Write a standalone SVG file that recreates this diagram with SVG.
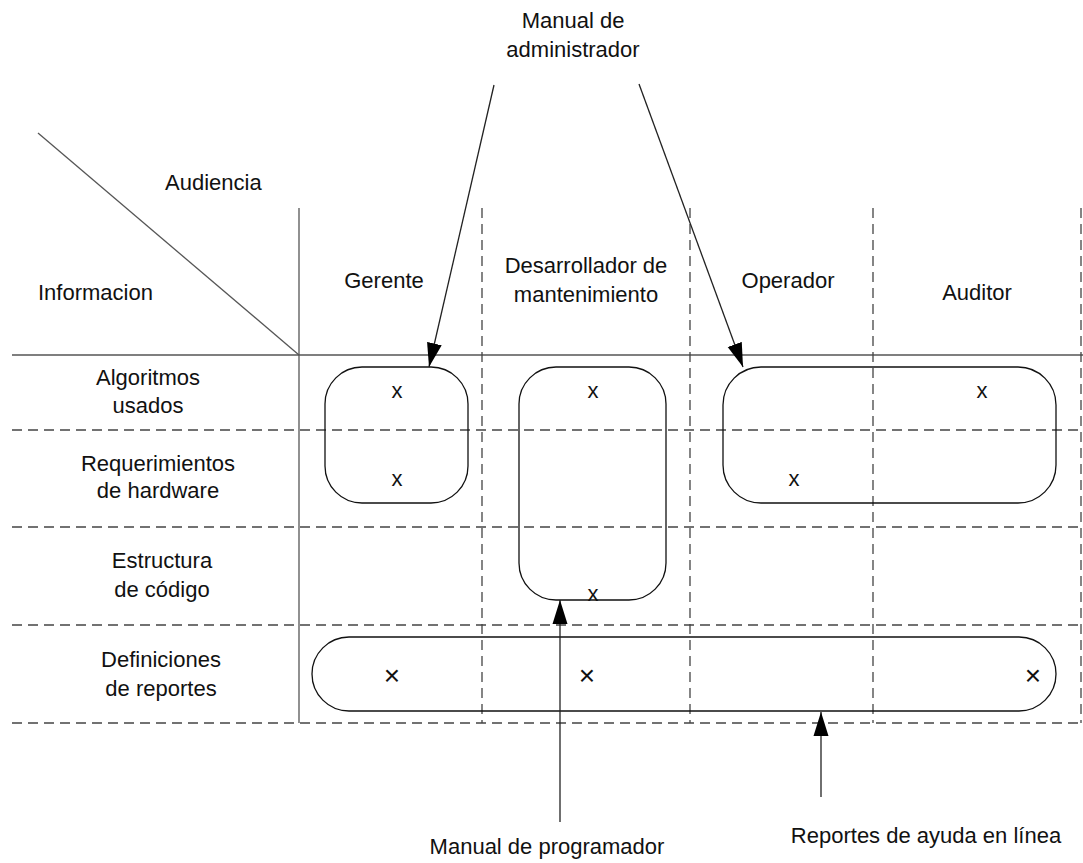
<svg xmlns="http://www.w3.org/2000/svg" width="1083" height="863" viewBox="0 0 1083 863">
<defs>
<style>
text{font-family:"Liberation Sans",Arial,sans-serif;font-size:22px;fill:#111;}
.c{text-anchor:middle;}
.m{font-size:28px;}
.grid{stroke:#555;stroke-width:1.3;fill:none;}
.dash{stroke:#444;stroke-width:1.3;stroke-dasharray:10,6;fill:none;}
.box{stroke:#111;stroke-width:1.3;fill:none;}
.arr{stroke:#222;stroke-width:1.3;fill:none;marker-end:url(#ah);}
</style>
<marker id="ah" markerUnits="userSpaceOnUse" markerWidth="24" markerHeight="16" refX="24" refY="8" orient="auto" viewBox="0 0 24 16">
<path d="M0,0.5 L24,8 L0,15.5 Z" fill="#000"/>
</marker>
</defs>
<rect width="1083" height="863" fill="#fff"/>

<g id="grid">
<line class="grid" x1="38" y1="133" x2="299" y2="355"/>
<line class="grid" x1="299" y1="208" x2="299" y2="723"/>
<line class="grid" x1="12" y1="355" x2="1083" y2="355"/>
<line class="dash" x1="12" y1="430" x2="1083" y2="430"/>
<line class="dash" x1="12" y1="527" x2="1083" y2="527"/>
<line class="dash" x1="12" y1="625" x2="1083" y2="625"/>
<line class="dash" x1="12" y1="723" x2="1083" y2="723"/>
<line class="dash" x1="482" y1="208" x2="482" y2="723"/>
<line class="dash" x1="690" y1="208" x2="690" y2="723"/>
<line class="dash" x1="873" y1="208" x2="873" y2="723"/>
<line class="dash" x1="1081" y1="208" x2="1081" y2="723"/>
</g>

<g id="headers">
<text x="165" y="190">Audiencia</text>
<text x="38" y="300">Informacion</text>
<text class="c" x="384" y="288">Gerente</text>
<text class="c" x="586" y="273">Desarrollador de</text>
<text class="c" x="586" y="302">mantenimiento</text>
<text class="c" x="788" y="288">Operador</text>
<text class="c" x="977" y="300">Auditor</text>
</g>

<g id="rows">
<text class="c" x="148" y="385">Algoritmos</text>
<text class="c" x="148" y="413">usados</text>
<text class="c" x="158" y="471">Requerimientos</text>
<text class="c" x="158" y="498">de hardware</text>
<text class="c" x="162" y="568">Estructura</text>
<text class="c" x="162" y="597">de código</text>
<text class="c" x="161" y="667">Definiciones</text>
<text class="c" x="161" y="696">de reportes</text>
</g>

<g id="grupo-gerente">
<rect class="box" x="325" y="367" width="143" height="136" rx="37" ry="37"/>
<text class="c" x="397" y="398">x</text>
<text class="c" x="397" y="486">x</text>
</g>

<g id="grupo-desarrollador">
<rect class="box" x="519" y="367" width="147" height="233" rx="37" ry="37"/>
<text class="c" x="593" y="398">x</text>
<text class="c" x="593" y="601">x</text>
</g>

<g id="grupo-operador-auditor">
<rect class="box" x="723" y="367" width="333" height="136" rx="38" ry="38"/>
<text class="c" x="982" y="398">x</text>
<text class="c" x="794" y="486">x</text>
</g>

<g id="grupo-reportes">
<rect class="box" x="312" y="637" width="744" height="74" rx="37" ry="37"/>
<text class="c m" x="392" y="685">×</text>
<text class="c m" x="587" y="685">×</text>
<text class="c m" x="1033" y="685">×</text>
</g>

<g id="label-admin">
<text class="c" x="573" y="28">Manual de</text>
<text class="c" x="573" y="57">administrador</text>
</g>
<g id="label-programador">
<text class="c" x="547" y="854">Manual de programador</text>
</g>
<g id="label-ayuda">
<text class="c" x="926" y="843">Reportes de ayuda en línea</text>
</g>

<g id="connectors">
<line class="arr" x1="494" y1="85" x2="429" y2="367"/>
<line class="arr" x1="639" y1="84" x2="743" y2="367"/>
<line class="arr" x1="560" y1="822" x2="560" y2="600"/>
<line class="arr" x1="821" y1="797" x2="821" y2="712"/>
</g>
</svg>
